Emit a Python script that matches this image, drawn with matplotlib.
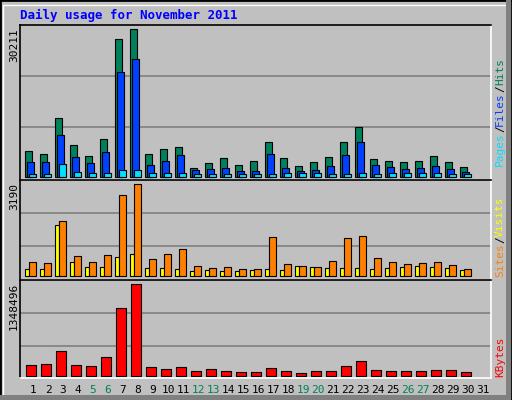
import matplotlib
matplotlib.use("Agg")
import matplotlib.pyplot as plt
from matplotlib.patches import Rectangle
import numpy as np

days = np.arange(1, 32)
hits = [5190,4580,11960,6420,4170,7650,28160,30211,4580,5600,6010,1710,2730,3760,2320,3140,7040,3760,2120,2940,3960,7040,10110,3550,3140,2940,3140,4170,2940,1910]
files = [2940,2940,8470,3960,2730,4990,21390,24060,2320,3140,4370,1300,1500,1710,1090,1090,4580,1710,1090,1300,2120,4370,7040,2320,1910,1500,1710,2120,1500,890]
pages = [480,480,2530,890,680,680,1300,1300,680,680,680,480,480,480,480,480,480,680,680,680,480,480,680,480,680,680,680,680,480,480]
sites = [486,451,1907,694,486,728,2809,3190,590,763,936,347,277,312,243,243,1352,416,347,312,520,1318,1387,624,486,416,451,486,381,243]
visits = [243,243,1768,486,312,312,659,763,277,277,243,173,208,173,173,208,243,208,347,312,277,277,277,243,277,312,347,312,277,208]
kbytes = [152500,167300,359200,152500,137800,270600,994000,1348496,123000,93500,123000,64000,93500,64000,49200,49200,108200,64000,34400,64000,64000,137800,211600,78700,64000,64000,64000,78700,78700,49200]
weekends = [5, 6, 12, 13, 19, 20, 26, 27]

BG = "#c0c0c0"
fig = plt.figure(figsize=(5.12, 4.0), dpi=100, facecolor=BG)
W, H = 512, 400
fig.patches.append(Rectangle((0, 0), 1, 1, transform=fig.transFigure, fill=False, ec="black", lw=2))
fig.patches.append(Rectangle((3/W, 3/H), 1-8/W, 1-8/H, transform=fig.transFigure, fill=False, ec="white", lw=1))
fig.patches.append(Rectangle((0, 0), 1-1/W, 5/H, transform=fig.transFigure, fc="#808080", ec="none"))
fig.patches.append(Rectangle((1-6/W, 0), 5/W, 1, transform=fig.transFigure, fc="#808080", ec="none"))

def mkax(top, bot):
    ax = fig.add_axes([20/W, 1-bot/H, 471/W, (bot-top)/H])
    ax.set_facecolor(BG)
    ax.set_xlim(0.5, 0.5 + 471/15)
    ax.set_xticks([]); ax.set_yticks([])
    for s in ["left", "top"]:
        ax.spines[s].set_color("black")
    for s in ["right", "bottom"]:
        ax.spines[s].set_color("white")
    for s in ax.spines.values():
        s.set_linewidth(1.2)
    return ax

mono = "DejaVu Sans Mono"
n = len(hits)
d = days[:n].astype(float)

ax1 = mkax(25, 180)
ax1.set_ylim(-677, 31093)
for g in [10190, 20650]:
    ax1.axhline(g, color="#808080", lw=1.2, zorder=0)
ax1.bar(d - 0.147, hits, width=0.47, align="edge", color="#00805c", ec="black", lw=0.8)
ax1.bar(d - 0.013, files, width=0.47, align="edge", color="#0040ff", ec="black", lw=0.8)
ax1.bar(d + 0.12, pages, width=0.47, align="edge", color="#00e0ff", ec="black", lw=0.8)

ax2 = mkax(180, 280.3)
ax2.set_ylim(-139, 3339)
for g in [1040, 2184]:
    ax2.axhline(g, color="#808080", lw=1.2, zorder=0)
ax2.bar(d - 0.147, visits, width=0.27, align="edge", color="#ffff00", ec="black", lw=0.8)
ax2.bar(d + 0.12, sites, width=0.47, align="edge", color="#ff8000", ec="black", lw=0.8)

ax3 = mkax(280.3, 377.7)
ax3.set_ylim(-29500, 1407500)
for g in [434000, 920000]:
    ax3.axhline(g, color="#808080", lw=1.2, zorder=0)
ax3.bar(d - 0.08, kbytes, width=0.67, align="edge", color="#ff0000", ec="black", lw=0.8)

for day in days:
    c = "#00805c" if day in weekends else "black"
    ax3.text(day + 0.37, -0.13, str(day), transform=ax3.get_xaxis_transform(),
             ha="center", va="center", fontsize=8, family=mono, color=c)

fig.text(20/W, 1-15/H, "Daily usage for November 2011", fontsize=9, weight="bold",
         family=mono, color="#0000ff", va="center", ha="left")

def ltxt(y, s):
    fig.text(14/W, 1-y/H, s, rotation=90, fontsize=8, family=mono, ha="center", va="top")
ltxt(28, "30211"); ltxt(183, "3190"); ltxt(283, "1348496")

renderer = fig.canvas.get_renderer()
def rtxt(ybot, parts):
    y = ybot
    for s, c in parts:
        t = fig.text(500/W, 1-y/H, s, rotation=90, fontsize=8, family=mono, color=c,
                     ha="center", va="bottom")
        ext = t.get_window_extent(renderer)
        y -= ext.height
rtxt(166, [("Pages", "#00e0ff"), ("/", "black"), ("Files", "#0040ff"), ("/", "black"), ("Hits", "#00805c")])
rtxt(277, [("Sites", "#ff8000"), ("/", "black"), ("Visits", "#ffff00")])
rtxt(377, [("KBytes", "#ff0000")])

fig.savefig("out.png", dpi=100, facecolor=BG)
